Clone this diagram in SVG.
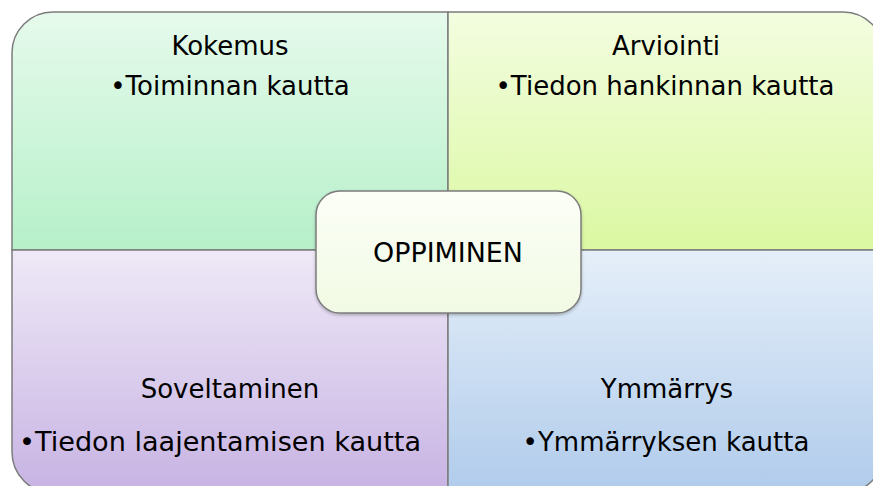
<svg xmlns="http://www.w3.org/2000/svg" width="873" height="486" viewBox="0 0 873 486">
  <style>
    .quad { stroke: #7c7c7c; stroke-width: 1.5; }
    .lbl { font-family: "DejaVu Sans", Verdana, sans-serif; font-size: 26px; fill: #000; text-anchor: middle; }
  </style>
  <defs>
    <linearGradient id="gGreen" x1="0" y1="0" x2="0" y2="1">
      <stop offset="0" stop-color="#e6faec"/>
      <stop offset="1" stop-color="#b6f0c9"/>
    </linearGradient>
    <linearGradient id="gLime" x1="0" y1="0" x2="0" y2="1">
      <stop offset="0" stop-color="#f3fde0"/>
      <stop offset="1" stop-color="#dbf8a2"/>
    </linearGradient>
    <linearGradient id="gLilac" x1="0" y1="0" x2="0" y2="1">
      <stop offset="0" stop-color="#efe9f7"/>
      <stop offset="1" stop-color="#c7b3e3"/>
    </linearGradient>
    <linearGradient id="gBlue" x1="0" y1="0" x2="0" y2="1">
      <stop offset="0" stop-color="#e5eff9"/>
      <stop offset="1" stop-color="#b0cbeb"/>
    </linearGradient>
    <linearGradient id="gCenter" x1="0" y1="0" x2="0" y2="1">
      <stop offset="0" stop-color="#fcfff7"/>
      <stop offset="1" stop-color="#f1fae4"/>
    </linearGradient>
    <filter id="soft" x="-5%" y="-5%" width="110%" height="115%">
      <feDropShadow dx="0" dy="1.5" stdDeviation="1.5" flood-color="#000" flood-opacity="0.25"/>
    </filter>
  </defs>

  <rect width="873" height="486" fill="#ffffff"/>

  <g id="kokemus">
    <path class="quad" fill="url(#gGreen)" d="M12,250 V53 A41,41 0 0 1 53,12 H448 V250 Z"/>
    <text class="lbl" x="230" y="55">Kokemus</text>
    <text class="lbl" x="230" y="95">•Toiminnan kautta</text>
  </g>

  <g id="arviointi">
    <path class="quad" fill="url(#gLime)" d="M448,12 H843 A41,41 0 0 1 884,53 V250 H448 Z"/>
    <text class="lbl" x="666" y="55">Arviointi</text>
    <text class="lbl" x="665" y="95">•Tiedon hankinnan kautta</text>
  </g>

  <g id="soveltaminen">
    <path class="quad" fill="url(#gLilac)" d="M12,250 H448 V493 H53 A41,41 0 0 1 12,452 Z"/>
    <text class="lbl" x="230" y="398">Soveltaminen</text>
    <text class="lbl" x="220" y="451" textLength="402" lengthAdjust="spacingAndGlyphs">•Tiedon laajentamisen kautta</text>
  </g>

  <g id="ymmarrys">
    <path class="quad" fill="url(#gBlue)" d="M448,250 H884 V452 A41,41 0 0 1 843,493 H448 Z"/>
    <text class="lbl" x="667" y="398">Ymmärrys</text>
    <text class="lbl" x="666" y="451">•Ymmärryksen kautta</text>
  </g>

  <g id="oppiminen">
    <rect x="316" y="191" width="265" height="122" rx="24" ry="24" fill="url(#gCenter)" stroke="#7c7c7c" stroke-width="1.5" filter="url(#soft)"/>
    <text class="lbl" x="448" y="262" textLength="150" lengthAdjust="spacingAndGlyphs">OPPIMINEN</text>
  </g>

  <g id="connectors"/>
</svg>
